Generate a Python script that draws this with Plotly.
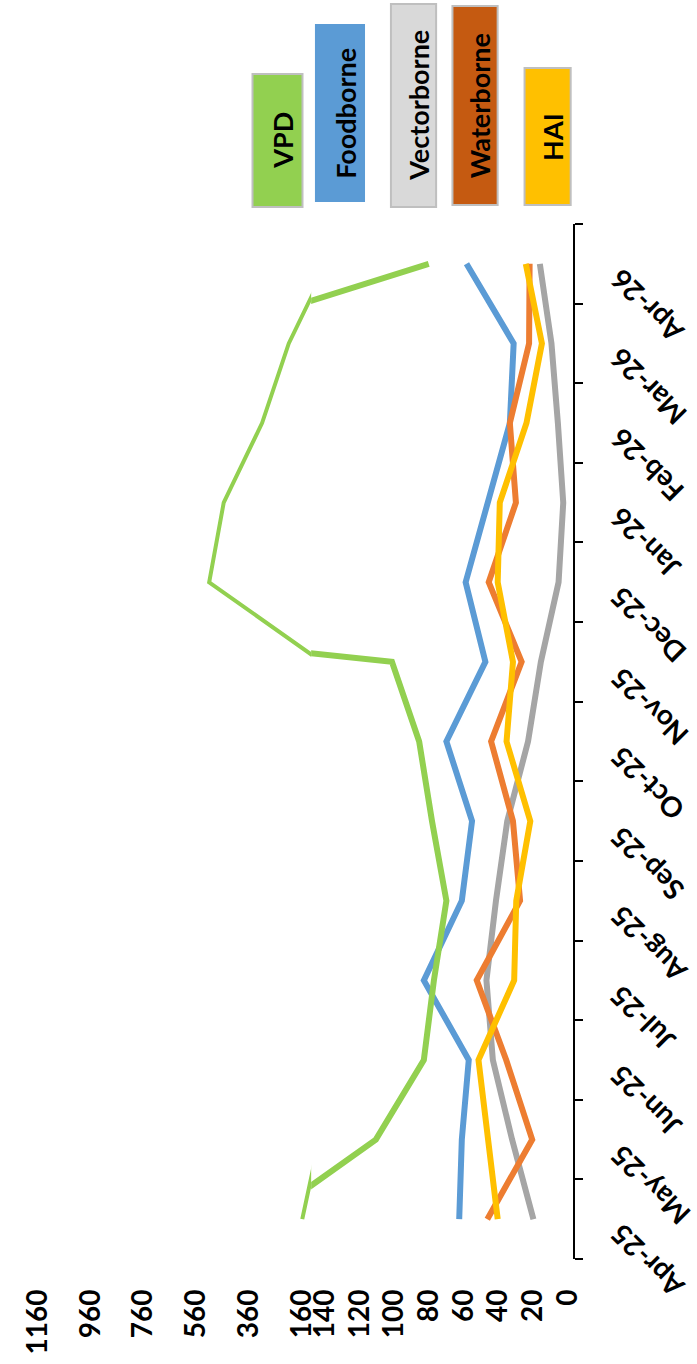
import plotly.graph_objects as go

# Monthly counts by disease category
months = ['Apr-25', 'May-25', 'Jun-25', 'Jul-25', 'Aug-25', 'Sep-25', 'Oct-25',
          'Nov-25', 'Dec-25', 'Jan-26', 'Feb-26', 'Mar-26', 'Apr-26']
vpd = [178, 113.5, 85.8, 80, 72.8, 81.1, 88.5, 104.2, 530, 475, 330, 229, 83]
foodborne = [65.4, 63.9, 59.9, 85.8, 63.9, 58.0, 72.8, 50.3, 61.7, 49.2, 36.2, 34.0, 61.2]
vectorborne = [22.6, 34.9, 46.0, 49.7, 44.2, 37.7, 25.7, 18.3, 8.1, 5.4, 8.5, 12.2, 18.9]
waterborne = [49.2, 23.3, 38.3, 55.3, 30.3, 34.4, 47.0, 29.4, 48.4, 32.7, 36.2, 25.1, 24.8]
hai = [43.2, 49.0, 54.3, 33.7, 32.5, 24.4, 38.1, 34.4, 43.2, 42.0, 26.6, 17.7, 27.0]

# Broken value axis: lower scale and upper scale tick labels
low_ticks = [0, 20, 40, 60, 80, 100, 120, 140]
high_ticks = [160, 360, 560, 760, 960, 1160]

W, H = 697, 1364
FONT = "Lato"


def px(x):
    return x / W


def py(y):
    return 1 - y / H


GREEN = "#92D050"
BLUE = "#5B9BD5"
GRAY_LINE = "#A5A5A5"
GRAY_BOX = "#D9D9D9"
ORANGE_LINE = "#ED7D31"
ORANGE_BOX = "#C55A11"
YELLOW = "#FFC000"

fig = go.Figure()

LW = 6
# lower-scale panel
fig.add_trace(go.Scatter(x=foodborne, y=months, mode="lines", name="Foodborne",
                         line=dict(color=BLUE, width=LW), xaxis="x", yaxis="y"))
fig.add_trace(go.Scatter(x=vpd, y=months, mode="lines", name="VPD",
                         line=dict(color=GREEN, width=LW), xaxis="x", yaxis="y"))
fig.add_trace(go.Scatter(x=vectorborne, y=months, mode="lines", name="Vectorborne",
                         line=dict(color=GRAY_LINE, width=LW), xaxis="x", yaxis="y"))
fig.add_trace(go.Scatter(x=waterborne, y=months, mode="lines", name="Waterborne",
                         line=dict(color=ORANGE_LINE, width=LW), xaxis="x", yaxis="y"))
fig.add_trace(go.Scatter(x=hai, y=months, mode="lines", name="HAI",
                         line=dict(color=YELLOW, width=LW), xaxis="x", yaxis="y"))
# upper-scale panel (VPD only)
fig.add_trace(go.Scatter(x=vpd, y=months, mode="lines", name="VPD",
                         line=dict(color=GREEN, width=4), xaxis="x2", yaxis="y"))

tickfont = dict(family=FONT, size=28, color="black", weight="bold")

fig.update_layout(
    width=W, height=H,
    margin=dict(l=0, r=0, t=0, b=0),
    paper_bgcolor="white", plot_bgcolor="white",
    showlegend=False,
    xaxis=dict(domain=[px(306), px(578)], range=[150.8, 0], anchor="y",
               tickmode="array", tickvals=low_ticks, ticktext=[str(v) for v in low_ticks],
               tickangle=-90, tickfont=tickfont, ticks="", ticklabelstandoff=24,
               ticklabelshift=5,
               showgrid=False, zeroline=False, showline=False),
    xaxis2=dict(domain=[px(20), px(306)], range=[1184, 144.4], anchor="y",
                tickmode="array", tickvals=high_ticks, ticktext=[str(v) for v in high_ticks],
                tickangle=-90, tickfont=tickfont, ticks="", ticklabelstandoff=24,
                ticklabelshift=5,
                showgrid=False, zeroline=False, showline=False),
    yaxis=dict(domain=[py(1259), py(224)], range=[-0.5, 12.5], anchor="x",
               side="right", type="category", categoryorder="array", categoryarray=months,
               showline=True, linecolor="black", linewidth=2,
               ticks="outside", ticklen=8, tickwidth=2, tickcolor="black",
               tickson="boundaries", showticklabels=False,
               showgrid=False, zeroline=False),
)

# Month labels, slanted
for m in months:
    fig.add_annotation(x=px(607), xref="paper", y=m, yref="y", yshift=4,
                       xanchor="left", yanchor="top", textangle=-135,
                       text=m, showarrow=False, font=tickfont)

# Legend boxes with vertical labels
legend = [
    ("VPD", GREEN, 245, 297, 74, 207, "#BFBFBF"),
    ("Foodborne", BLUE, 311, 361, 25, 201, BLUE),
    ("Vectorborne", GRAY_BOX, 389, 436, 4, 207, "#BFBFBF"),
    ("Waterborne", ORANGE_BOX, 453, 500, 6, 205, "#BFBFBF"),
    ("HAI", YELLOW, 528, 576, 68, 205, "#BFBFBF"),
]
for label, fill, x0, x1, y0, y1, border in legend:
    fig.add_shape(type="rect", xref="paper", yref="paper",
                  x0=px(x0), x1=px(x1), y0=py(y1), y1=py(y0),
                  fillcolor=fill, line=dict(color=border, width=2))
    fig.add_annotation(x=px((x0 + x1) / 2 + 5), y=py((y0 + y1) / 2),
                       xref="paper", yref="paper", text=label, textangle=-90,
                       showarrow=False, xanchor="center", yanchor="middle",
                       font=dict(family=FONT, size=27, color="black", weight="bold"))

fig.write_html("out.html")
